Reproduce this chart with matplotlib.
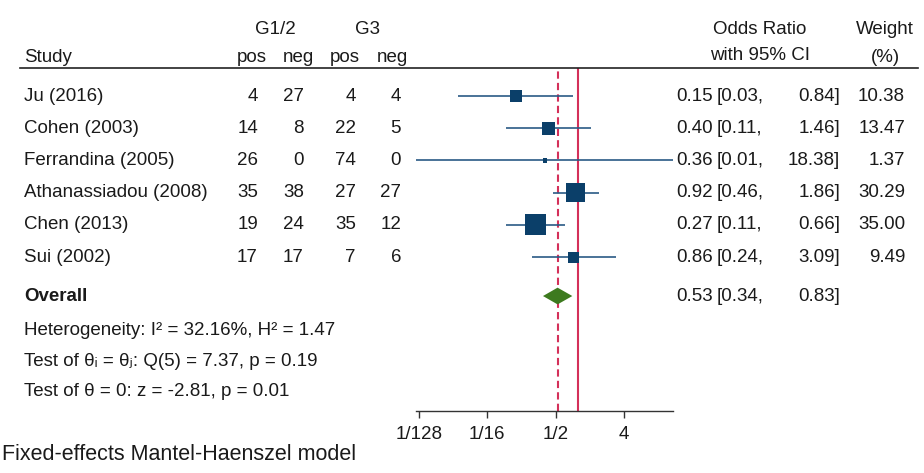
import numpy as np
import matplotlib
matplotlib.use('Agg')
import matplotlib.pyplot as plt
from matplotlib.transforms import blended_transform_factory
from matplotlib.lines import Line2D

plt.rcParams['font.family'] = ['Liberation Sans', 'DejaVu Sans']

studies = ['Ju (2016)', 'Cohen (2003)', 'Ferrandina (2005)',
           'Athanassiadou (2008)', 'Chen (2013)', 'Sui (2002)']
g12_pos = [4, 14, 26, 35, 19, 17]
g12_neg = [27, 8, 0, 38, 24, 17]
g3_pos = [4, 22, 74, 27, 35, 7]
g3_neg = [4, 5, 0, 27, 12, 6]
odds = [0.15, 0.40, 0.36, 0.92, 0.27, 0.86]
ci_lo = [0.026, 0.11, 0.007, 0.46, 0.11, 0.24]
ci_hi = [0.84, 1.46, 18.38, 1.86, 0.66, 3.09]
weight = [10.38, 13.47, 1.37, 30.29, 35.00, 9.49]
overall_or = 0.53
overall_lo = 0.34
overall_hi = 0.83
tick_vals = [1/128, 1/16, 1/2, 4]
tick_labels = ['1/128', '1/16', '1/2', '4']

W, H = 924, 473
fs = 13.5
txt = '#1a1a1a'
box_c = '#0b3f69'
line_c = '#2a5a85'
red = '#d4305a'
green = '#3d7a1f'

fig = plt.figure(figsize=(W / 100, H / 100), dpi=100)
ax = fig.add_axes([416 / W, 1 - 411 / H, (673 - 416) / W, (411 - 68) / H])
ax.set_xscale('log', base=2)
ax.set_xlim(2 ** -7.13, 2 ** 4.15)
ax.set_ylim(9.78, -0.87)

rows = np.arange(len(studies))
ax.hlines(rows, ci_lo, ci_hi, color=line_c, lw=1.2, zorder=2)
ax.scatter(odds, rows, s=np.array(weight) * 6.5, marker='s', color=box_c,
           linewidths=0, zorder=3)

# overall diamond
yo = 6.21
ax.fill([overall_lo, overall_or, overall_hi, overall_or],
        [yo, yo - 0.26, yo, yo + 0.26], color=green, zorder=3, lw=0)

ax.axvline(1, color=red, lw=1.5, zorder=1)
ax.axvline(overall_or, color=red, lw=1.5, ls=(0, (3.5, 2)), zorder=1)

for s in ['top', 'right', 'left']:
    ax.spines[s].set_visible(False)
ax.spines['bottom'].set_color('#333333')
ax.spines['bottom'].set_linewidth(1.0)
ax.set_yticks([])
ax.set_xticks(tick_vals)
ax.set_xticklabels(tick_labels)
ax.minorticks_off()
ax.tick_params(axis='x', length=5, width=1.0, color='#333333', pad=6,
               labelsize=fs, labelcolor=txt)

tr = blended_transform_factory(fig.transFigure, ax.transData)

def put(px, y, s, ha='right', size=fs, **kw):
    ax.text(px / W, y, s, transform=tr, ha=ha, va='center', fontsize=size,
            color=txt, clip_on=False, **kw)

# header
put(275, -2.08, 'G1/2', ha='center')
put(368, -2.08, 'G3', ha='center')
put(24, -1.21, 'Study', ha='left')
for x, lab in zip([252, 298, 345, 392], ['pos', 'neg', 'pos', 'neg']):
    put(x, -1.21, lab, ha='center')
put(760, -2.08, 'Odds Ratio', ha='center')
put(760, -1.25, 'with 95% CI', ha='center')
put(885, -2.08, 'Weight', ha='center')
put(885, -1.21, '(%)', ha='center')

fig.add_artist(Line2D([20 / W, 918 / W], [1 - 68 / H, 1 - 68 / H],
                      color='#222222', lw=1.2))

for i in range(len(studies)):
    put(24, i, studies[i], ha='left')
    put(258, i, str(g12_pos[i]))
    put(304, i, str(g12_neg[i]))
    put(356, i, str(g3_pos[i]))
    put(401, i, str(g3_neg[i]))
    put(713, i, '%.2f' % odds[i])
    put(717, i, '[%.2f,' % ci_lo[i], ha='left')
    put(840, i, '%.2f]' % ci_hi[i])
    put(905, i, '%.2f' % weight[i])

put(24, yo, 'Overall', ha='left', fontweight='bold')
put(713, yo, '%.2f' % overall_or)
put(717, yo, '[%.2f,' % overall_lo, ha='left')
put(840, yo, '%.2f]' % overall_hi)

put(24, 7.27, 'Heterogeneity: I\u00b2 = 32.16%, H\u00b2 = 1.47', ha='left')
put(24, 8.23, 'Test of \u03b8\u1d62 = \u03b8\u2c7c: Q(5) = 7.37, p = 0.19', ha='left')
put(24, 9.19, 'Test of \u03b8 = 0: z = -2.81, p = 0.01', ha='left')
put(2, 11.12, 'Fixed-effects Mantel-Haenszel model', ha='left', size=15.5)

fig.savefig('out.png', dpi=100)
